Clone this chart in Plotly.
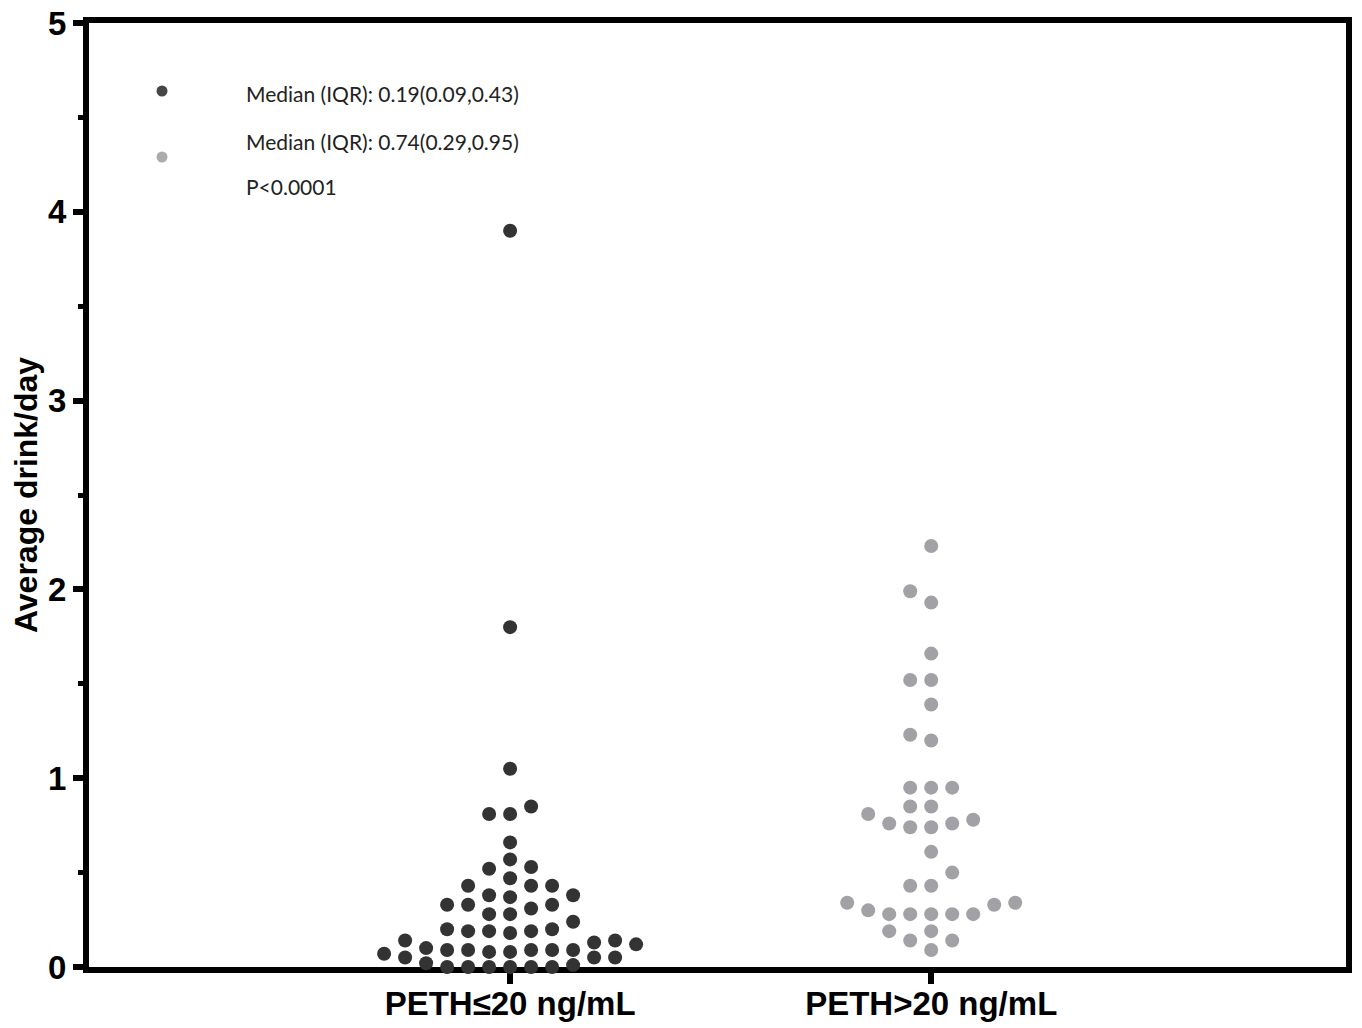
import plotly.graph_objects as go

# ---------------- data ----------------
categories = ["PETH\u226420 ng/mL", "PETH>20 ng/mL"]
category_pos = [1, 2]

peth_low = [0, 0, 0, 0, 0, 0, 0.01, 0.02, 0.05, 0.05, 0.05, 0.07, 0.08, 0.08,
            0.09, 0.09, 0.09, 0.09, 0.09, 0.10, 0.12, 0.13, 0.14, 0.14,
            0.18, 0.19, 0.19, 0.19, 0.20, 0.20, 0.24, 0.28, 0.28, 0.31,
            0.33, 0.33, 0.33, 0.37, 0.38, 0.38, 0.43, 0.43, 0.43, 0.47,
            0.52, 0.53, 0.57, 0.66, 0.81, 0.81, 0.85, 1.05, 1.80, 3.90]

peth_high = [0.09, 0.14, 0.14, 0.19, 0.19, 0.28, 0.28, 0.28, 0.28, 0.28,
             0.30, 0.33, 0.34, 0.34, 0.43, 0.43, 0.50, 0.61, 0.74, 0.74,
             0.76, 0.76, 0.78, 0.81, 0.85, 0.85, 0.95, 0.95, 0.95, 1.20,
             1.23, 1.39, 1.52, 1.52, 1.66, 1.93, 1.99, 2.23]

y_tickvals = [0, 1, 2, 3, 4, 5]
legend_lines = ["Median (IQR): 0.19(0.09,0.43)",
                "Median (IQR): 0.74(0.29,0.95)",
                "P<0.0001"]
y_title = "Average drink/day"

# ---------------- layout constants ----------------
# the page body has an 8px margin, so the figure sits 8px into the window
PAGE_OFF = 8
W, H = 1354, 1020
ML, MR, MT, MB = 81, 16, 15, 61
X_RANGE = [0.0, 2.985]
Y_RANGE = [0, 5]
plot_w = W - ML - MR
plot_h = H - MT - MB
px_per_x = plot_w / (X_RANGE[1] - X_RANGE[0])
px_per_y = plot_h / (Y_RANGE[1] - Y_RANGE[0])
DOT = 14      # dot diameter in px
COL = 21      # horizontal spacing between dot columns, px

DARK = "#333333"
GREY = "#a2a2a6"


def swarm_x(values, center):
    """Greedy column-aligned dot-plot layout computed from the values."""
    order = sorted(range(len(values)), key=lambda i: values[i])
    cands = [0.0]
    for k in range(1, 40):
        cands += [-k * COL / 2, k * COL / 2]
    placed = []
    xs = [center] * len(values)
    for i in order:
        yp = values[i] * px_per_y
        for c in cands:
            if all(not (abs(c - px) < COL - 0.5 and abs(yp - py) < DOT)
                   for px, py in placed):
                break
        placed.append((c, yp))
        xs[i] = center + c / px_per_x
    return xs


fig = go.Figure()
fig.add_trace(go.Scatter(
    x=swarm_x(peth_low, category_pos[0]), y=peth_low, mode="markers",
    marker=dict(size=DOT, color=DARK, line=dict(width=0)),
    cliponaxis=False, showlegend=False, name=categories[0]))
fig.add_trace(go.Scatter(
    x=swarm_x(peth_high, category_pos[1]), y=peth_high, mode="markers",
    marker=dict(size=DOT, color=GREY, line=dict(width=0)),
    cliponaxis=False, showlegend=False, name=categories[1]))

FONT = "Liberation Sans, Arial, sans-serif"

fig.update_layout(
    width=W, height=H,
    margin=dict(l=ML, r=MR, t=MT, b=MB, pad=0, autoexpand=False),
    paper_bgcolor="white", plot_bgcolor="white",
    xaxis=dict(range=X_RANGE, tickvals=category_pos, ticktext=categories,
               automargin=False, ticklabeloverflow="allow",
               ticklabelstandoff=-9,
               showgrid=False, zeroline=False,
               showline=True, linecolor="black", linewidth=6, mirror=True,
               ticks="outside", ticklen=11, tickwidth=6, tickcolor="black",
               tickfont=dict(family=FONT, size=33, color="black",
                             weight="bold"),
               layer="below traces"),
    yaxis=dict(range=Y_RANGE, tickvals=y_tickvals, automargin=False,
               ticklabeloverflow="allow",
               showgrid=False, zeroline=False,
               showline=True, linecolor="black", linewidth=6, mirror=True,
               ticks="outside", ticklen=10, tickwidth=6, tickcolor="black",
               minor=dict(dtick=0.5, ticks="outside", ticklen=5,
                          tickwidth=5, tickcolor="black", showgrid=False),
               tickfont=dict(family=FONT, size=33, color="black",
                             weight="bold"),
               title=dict(text=y_title, standoff=14,
                          font=dict(family=FONT, size=32, color="black",
                                    weight="bold")),
               layer="below traces"),
)


# legend (drawn manually to match the reference layout); positions are
# given in window pixels and converted to paper coordinates
def px_to_paper_x(px):
    return (px - PAGE_OFF - ML) / plot_w


def px_to_paper_y(py):
    return (H - MB - (py - PAGE_OFF)) / plot_h


legend_marker_colors = ["#454545", "#ababae"]
legend_marker_y = [91, 157]
for col, my in zip(legend_marker_colors, legend_marker_y):
    fig.add_shape(type="circle", xref="paper", yref="paper",
                  xsizemode="pixel", ysizemode="pixel",
                  xanchor=px_to_paper_x(162), yanchor=px_to_paper_y(my),
                  x0=-5.5, x1=5.5, y0=-5.5, y1=5.5,
                  fillcolor=col, line=dict(width=0))

text_y = [94, 141, 187]
for txt, ty in zip(legend_lines, text_y):
    fig.add_annotation(x=px_to_paper_x(244), y=px_to_paper_y(ty),
                       xref="paper", yref="paper", text=txt, showarrow=False,
                       xanchor="left", yanchor="middle",
                       font=dict(family="Lato, Open Sans, sans-serif",
                                 size=21, color="#222222"))

fig.write_html("out.html")
